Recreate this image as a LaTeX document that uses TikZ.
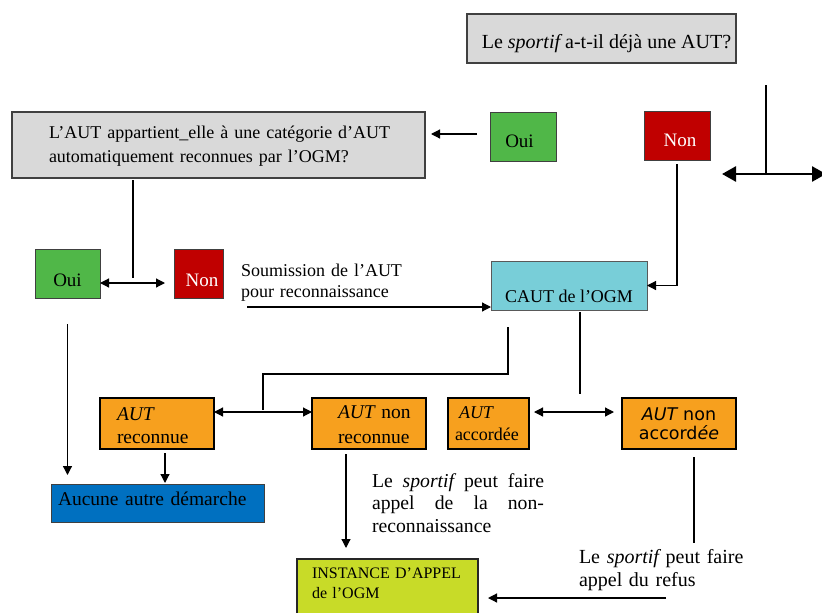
\documentclass[tikz,border=0pt]{standalone}
\usepackage{fontspec}
\setmainfont{Liberation Serif}
\newfontfamily\dejavu{DejaVu Sans}
\usetikzlibrary{arrows.meta,calc}
\definecolor{qgray}{RGB}{217,217,217}
\definecolor{ogreen}{RGB}{80,183,72}
\definecolor{nred}{RGB}{192,0,0}
\definecolor{ccyan}{RGB}{120,206,216}
\definecolor{aorange}{RGB}{247,160,30}
\definecolor{ablue}{RGB}{0,112,192}
\definecolor{iyellow}{RGB}{200,219,40}
\newcommand\myfs[2]{\fontsize{#1}{#2}\selectfont}
\newcommand\itx[1]{{\itshape #1}}
\begin{document}
\begin{tikzpicture}[x=1pt,y=-1pt,
  box/.style={rectangle, inner sep=0pt, outer sep=0pt},
  graybox/.style={box, fill=qgray, draw=black!75, line width=1.2pt},
  ouibox/.style={box, fill=ogreen, draw=black!75, line width=1pt},
  nonbox/.style={box, fill=nred, draw=black!75, line width=1pt, text=white},
  cautbox/.style={box, fill=ccyan, draw=black!65, line width=1pt},
  orangebox/.style={box, fill=aorange, draw=black, line width=2.5pt},
  bluebox/.style={box, fill=ablue, draw=black!75, line width=1pt},
  instbox/.style={box, fill=iyellow, draw=black!85, line width=1.4pt},
  plain/.style={inner sep=0pt, outer sep=0pt, align=left},
  line/.style={line width=1.2pt, draw=black},
  arr/.style={line, -{Triangle[length=9pt,width=9pt]}},
  darr/.style={line, {Triangle[length=9pt,width=9pt]}-{Triangle[length=9pt,width=9pt]}},
  bigdarr/.style={line width=2.6pt, {Triangle[length=14pt,width=15pt]}-{Triangle[length=14pt,width=15pt]}}
]
\useasboundingbox (0,0) rectangle (822,613);
\clip (0,0) rectangle (822,613);

% question boxes
\node[graybox, minimum width=269pt, minimum height=49pt,
      text height=19pt, text depth=0pt, font=\myfs{20}{24}] (q1) at (601.5,38.5)
  {\hspace*{10pt}Le \itx{sportif} a-t-il déjà une AUT?};
\node[graybox, minimum width=413pt, minimum height=66pt, text width=413pt, align=left,
      text height=0pt, text depth=14pt, font=\myfs{18}{24}] (q2) at (218.5,145)
  {\hspace*{37pt}L’AUT appartient\_elle à une catégorie d’AUT\\\hspace*{37pt}automatiquement reconnues par l’OGM?};

% oui / non
\node[ouibox, minimum width=66pt, minimum height=49pt,
      text height=21pt, text depth=0pt, font=\myfs{19}{23}] (oui1) at (523,136.5) {\hspace*{-7pt}Oui};
\node[nonbox, minimum width=66pt, minimum height=49pt,
      text height=21pt, text depth=0pt, font=\myfs{19}{23}] (non1) at (677,135.5) {\hspace*{6pt}Non};
\node[ouibox, minimum width=65pt, minimum height=49pt,
      text height=25pt, text depth=0pt, font=\myfs{19}{23}] (oui2) at (67.5,273.5) {Oui};
\node[nonbox, minimum width=49pt, minimum height=49pt,
      text height=25pt, text depth=0pt, font=\myfs{19}{23}] (non2) at (198.5,273.5) {\hspace*{7pt}Non};

% CAUT
\node[cautbox, minimum width=156pt, minimum height=49pt,
      text height=33pt, text depth=0pt, font=\myfs{18}{22}] (caut) at (569,285.5) {CAUT de l’OGM};

% orange boxes
\node[orangebox, minimum width=114pt, minimum height=51pt, text width=114pt, align=left,
      text height=0pt, text depth=7pt, font=\myfs{19.5}{23}] (autrec) at (157,423.5)
  {\hspace*{17pt}\itx{AUT}\\\hspace*{17pt}reconnue};
\node[orangebox, minimum width=114pt, minimum height=51pt, text width=114pt, align=left,
      text height=0pt, text depth=11pt, font=\myfs{19.5}{25}] (autnonrec) at (369,423.5)
  {\hspace*{26pt}\itx{AUT} non\\\hspace*{26pt}reconnue};
\node[orangebox, minimum width=81pt, minimum height=51pt, text width=81pt, align=left,
      text height=0pt, text depth=11pt, font=\myfs{18}{22}] (autacc) at (488.5,423.5)
  {\hspace*{11pt}\itx{AUT}\\\hspace*{7pt}accordée};
\node[orangebox, minimum width=114pt, minimum height=51pt, text width=114pt, align=center,
      text height=0pt, text depth=7pt, font=\dejavu\myfs{17.5}{19.5}] (autnonacc) at (679,423.5)
  {\itx{AUT} non\\accord\itx{ée}};

% result boxes
\node[bluebox, minimum width=213pt, minimum height=38pt, text width=213pt, align=left,
      text height=4pt, text depth=0pt, font=\myfs{19.5}{23}] (aucune) at (157.5,503)
  {\hspace*{7pt}Aucune autre démarche};
\node[instbox, minimum width=181pt, minimum height=62pt, text width=181pt, align=left,
      text height=0pt, text depth=24pt, font=\myfs{16}{20}] (inst) at (387.5,590)
  {\hspace*{15pt}INSTANCE D’APPEL\\\hspace*{15pt}de l’OGM};

% free texts
\node[plain, anchor=base west, text width=175pt, font=\myfs{18}{21}] (soum) at (241,276)
  {Soumission de l’AUT\\pour reconnaissance};
\node[plain, anchor=base west, text width=172pt, font=\myfs{19.7}{22.5}] (appelnr) at (372,487)
  {\makebox[172pt][l]{Le\hfill\itx{sportif}\hfill peut\hfill faire}\\\makebox[172pt][l]{appel\hfill de\hfill la\hfill non-}\\reconnaissance};
\node[plain, anchor=base west, text width=175pt, font=\myfs{20}{23}] (appelref) at (579,563)
  {Le \itx{sportif} peut faire\\appel du refus};

% connectors
\draw[arr, shorten <=13pt, shorten >=6pt] ($(oui1.west)+(0,-2.5)$) -- ($(oui1.west -| q2.east)+(0,-2.5)$);
\draw[arr, shorten <=4pt] (non1.south) |- (caut.east);
\draw[line] ($(q2.south west)+(121,2)$) -- ($(q2.south west)+(121,100)$);
\draw[darr, shorten >=9pt] ($(oui2.east)+(0,9.5)$) -- ($(non2.west)+(0,9.5)$);
\coordinate (soumstart) at (247,307);
\draw[arr] (soumstart) -- (soumstart -| caut.west);
\draw[arr, shorten <=26pt, shorten >=9pt] (oui2.south) -- (oui2.south |- aucune.north);
\coordinate (arS) at ($(autrec.south)+(8,4)$);
\draw[arr, shorten >=1pt] (arS) -- (arS |- aucune.north);
\draw[darr] ($(autrec.east)+(0,-11.5)$) -- ($(autnonrec.west)+(0,-11.5)$);
\coordinate (recmid) at ($(autrec.east)!0.5!(autnonrec.west)+(0,-13.5)$);
\coordinate (cautL) at ($(caut.south)+(-61,17)$);
\draw[line] (cautL) -- ++(0,47) -| (recmid);
\draw[line] ($(caut.south)+(11,2)$) -- ++(0,82);
\draw[darr, shorten <=5pt, shorten >=8pt] ($(autacc.east)+(0,-11.5)$) -- ($(autnonacc.west)+(0,-11.5)$);
\coordinate (anrS) at ($(autnonrec.south)+(-23,5)$);
\draw[arr, shorten >=11pt] (anrS) -- (anrS |- inst.north);
\draw[line] ($(autnonacc.south)+(15,8)$) -- ++(0,86);
\coordinate (refusS) at (666,598);
\draw[arr, shorten >=10pt] (refusS) -- (refusS -| inst.east);

% cross on the right
\coordinate (crossTop) at (766,85);
\coordinate (crossMid) at (766,174);
\coordinate (crossL) at (722,174);
\coordinate (crossR) at (826,174);
\draw[line, line width=1.6pt] (crossTop) -- (crossMid);
\draw[bigdarr] (crossL) -- (crossR);
\end{tikzpicture}
\end{document}
